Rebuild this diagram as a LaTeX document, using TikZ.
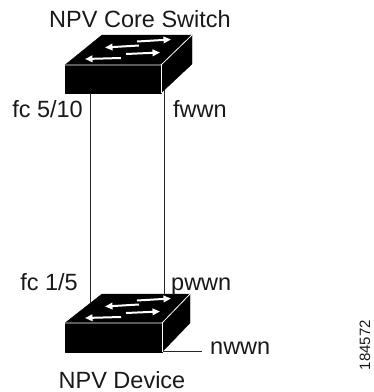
\documentclass[tikz,border=0pt]{standalone}
\usepackage{fontspec}
\setmainfont{Liberation Sans}
\usetikzlibrary{arrows.meta}
\begin{document}
\begin{tikzpicture}[x=1pt,y=-1pt,
  lbl/.style={font=\fontsize{23.5}{27}\selectfont, inner sep=0pt, text=black!90},
  wire/.style={line width=0.9pt, draw=black!85},
  face/.style={fill=black, draw=black, line width=0.4pt, line join=round},
  edgew/.style={draw=white, line width=0.8pt},
  arr/.style={draw=white, line width=2pt, -{Triangle[length=7.5pt,width=6.5pt]}}]
\useasboundingbox (0,0) rectangle (374,392);

% ---------- top switch ----------
\begin{scope}
  \fill[face] (65,65) -- (102,35) -- (192,35) -- (161,65) -- cycle;
  \fill[face] (161,65) -- (192,35) -- (192,64) -- (161,93) -- cycle;
  \fill[face] (65,65) rectangle (161,93);
  \draw[edgew] (65,65) -- (161,65) -- (192,35);
  \draw[edgew] (161,65) -- (161,93);
  \draw[arr] (137,41.5) -- (171,39.5);
  \draw[arr] (139,45.5) -- (105,47.5);
  \draw[arr] (126,54) -- (160,52.5);
  \draw[arr] (121,58) -- (85,59);
\end{scope}

% ---------- bottom switch ----------
\begin{scope}[yshift=-259pt]
  \fill[face] (65,64) -- (102,35) -- (190,35) -- (162,64) -- cycle;
  \fill[face] (162,64) -- (190,35) -- (190,64) -- (162,93) -- cycle;
  \fill[face] (65,64) rectangle (162,93);
  \draw[edgew] (65,64) -- (162,64) -- (190,35);
  \draw[edgew] (162,64) -- (162,93);
  \draw[arr] (137,41.5) -- (171,39.5);
  \draw[arr] (139,45.5) -- (105,47.5);
  \draw[arr] (126,54) -- (160,52.5);
  \draw[arr] (121,58) -- (85,59);
\end{scope}

% ---------- connection points ----------
\coordinate (coreL) at (90,93);
\coordinate (devL) at (90,304);
\coordinate (coreR) at (164.5,90);
\coordinate (devR) at (164.5,294.5);
\coordinate (devN) at (163,351);
\coordinate (nEnd) at (202,351);

\draw[wire] (coreL) -- (devL);
\draw[wire] (coreR) -- (devR);
\draw[wire] (devN) -- (nEnd);

% ---------- labels ----------
\node[lbl, anchor=base] (core) at (140,27) {NPV Core Switch};
\node[lbl, anchor=base] (dev) at (122,388) {NPV Device};
\node[lbl, anchor=base east] (fc510) at (83,117) {fc 5/10};
\node[lbl, anchor=base west] (fwwn) at (173,117) {fwwn};
\node[lbl, anchor=base east] (fc15) at (78,290) {fc 1/5};
\node[lbl, anchor=base west] (pwwn) at (171,290) {pwwn};
\node[lbl, anchor=base west] (nwwn) at (210,354) {nwwn};
\node[font=\fontsize{15}{17}\selectfont, inner sep=0pt, text=black!90, rotate=90] (fig) at (365,345) {184572};
\end{tikzpicture}
\end{document}
